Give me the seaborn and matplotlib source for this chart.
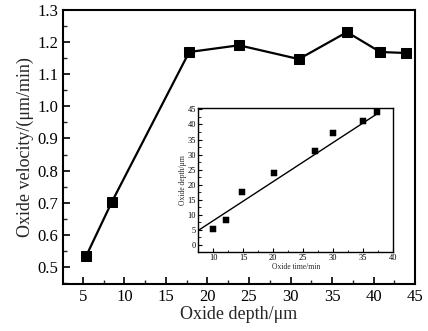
import numpy as np
import pandas as pd
import matplotlib
matplotlib.use("Agg")
import matplotlib.pyplot as plt
from matplotlib.ticker import MultipleLocator, FormatStrFormatter
import seaborn as sns

# main curve: oxide velocity vs oxide depth
depth = [5.4, 8.5, 17.8, 23.8, 31.0, 36.8, 40.8, 43.9]
velocity = [0.534, 0.703, 1.169, 1.19, 1.147, 1.231, 1.169, 1.166]

# inset: oxide depth vs oxide time
time_min = [10.0, 12.2, 14.8, 20.2, 26.9, 30.0, 35.0, 37.3]
depth_um = [5.3, 8.3, 17.7, 24.0, 31.3, 37.3, 41.0, 44.3]
fit_time = [7.5, 37.5]
fit_depth = [4.8, 43.8]

sns.set_theme(style="ticks")
plt.rcParams['font.family'] = ['Liberation Serif', 'DejaVu Serif']
plt.rcParams['mathtext.fontset'] = 'stix'

fig = plt.figure(figsize=(4.28, 3.31), dpi=100)
ax = fig.add_axes([0.147, 0.142, 0.823, 0.828])

main_df = pd.DataFrame({"depth": depth, "velocity": velocity})
sns.lineplot(data=main_df, x="depth", y="velocity", ax=ax, color="black",
             linewidth=1.6, marker="s", markersize=7, markeredgecolor="black")

ax.set_xlim(2.6, 45)
ax.set_ylim(0.447, 1.3)
ax.xaxis.set_major_locator(MultipleLocator(5))
ax.xaxis.set_minor_locator(MultipleLocator(2.5))
ax.yaxis.set_major_locator(MultipleLocator(0.1))
ax.yaxis.set_minor_locator(MultipleLocator(0.05))
ax.yaxis.set_major_formatter(FormatStrFormatter('%.1f'))
ax.tick_params(which='major', direction='in', length=5, width=1.2, labelsize=12, colors='black')
ax.tick_params(which='minor', direction='in', length=3, width=1.0)
for s in ax.spines.values():
    s.set_linewidth(1.5)
    s.set_color('black')
ax.set_xlabel("Oxide depth/μm", fontsize=13, labelpad=1)
ax.set_ylabel("Oxide velocity/(μm/min)", fontsize=13, labelpad=2)

# inset
ins = fig.add_axes([0.463, 0.239, 0.456, 0.435])
ins_df = pd.DataFrame({"time": time_min, "depth": depth_um})
sns.scatterplot(data=ins_df, x="time", y="depth", ax=ins, color="black",
                marker="s", s=20, edgecolor="black")
sns.lineplot(x=fit_time, y=fit_depth, ax=ins, color="black", linewidth=1.0)
ins.set_xlim(7.5, 40)
ins.set_ylim(-2.3, 45.5)
ins.xaxis.set_major_locator(MultipleLocator(5))
ins.xaxis.set_minor_locator(MultipleLocator(2.5))
ins.yaxis.set_major_locator(MultipleLocator(5))
ins.yaxis.set_minor_locator(MultipleLocator(2.5))
ins.tick_params(which='major', direction='in', length=3, width=0.8, labelsize=6, pad=1.5, colors='black')
ins.tick_params(which='minor', direction='in', length=1.8, width=0.7)
for s in ins.spines.values():
    s.set_linewidth(1.0)
    s.set_color('black')
ins.set_xlabel("Oxide time/min", fontsize=5.5, labelpad=0.5)
ins.set_ylabel("Oxide depth/μm", fontsize=5.5, labelpad=0.5)

fig.savefig("out.png", dpi=100)
